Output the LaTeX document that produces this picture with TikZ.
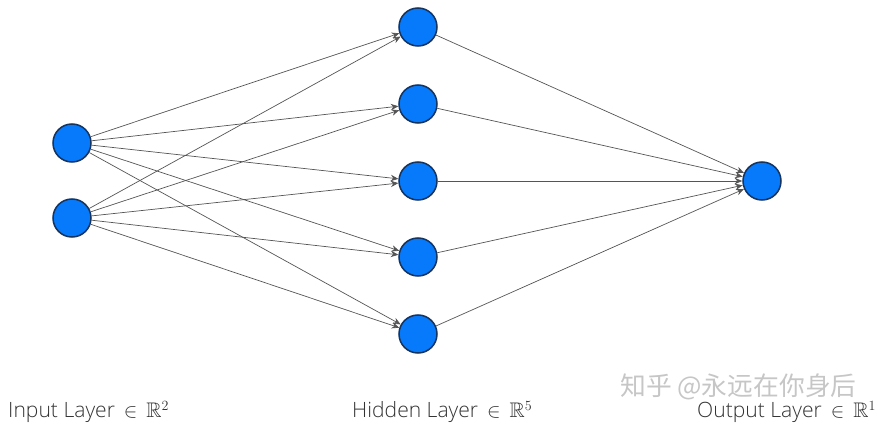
\documentclass[tikz,border=0pt]{standalone}
\usepackage{amssymb}
\usepackage{amsmath}
\usepackage{fontspec}
\setmainfont{Open Sans}[UprightFont=* Light]
\newfontfamily\cjkfont{Noto Sans CJK SC}
\usetikzlibrary{arrows.meta}
\definecolor{neuronblue}{RGB}{6,122,250}
\definecolor{neuronedge}{RGB}{22,52,96}
\definecolor{wiregray}{RGB}{85,85,85}

\begin{document}
\begin{tikzpicture}[x=0.03cm,y=-0.03cm,
    neuron/.style={circle,draw=neuronedge,fill=neuronblue,line width=1.3pt,minimum size=38*0.03cm,inner sep=0pt},
    wire/.style={draw=wiregray,line width=0.6pt,-{Stealth[length=6.5pt,width=5.5pt]}},
    layerlabel/.style={anchor=base west,inner sep=0pt,font=\fontsize{18}{21}\selectfont,text=black!80}]
    \useasboundingbox (0,0) rectangle (882,427);
    %Input layer
    \node[neuron] (in1) at (72,143) {};
    \node[neuron] (in2) at (72,218) {};
    %Hidden layer
    \node[neuron] (h1) at (418,27) {};
    \node[neuron] (h2) at (418,104) {};
    \node[neuron] (h3) at (418,181) {};
    \node[neuron] (h4) at (418,257) {};
    \node[neuron] (h5) at (418,334) {};
    %Output layer
    \node[neuron] (out) at (762,181) {};
    %Connections
    \foreach \i in {1,2}
        \foreach \j in {1,...,5}
            \draw[wire] (in\i) -- (h\j);
    \foreach \j in {1,...,5}
        \draw[wire] (h\j) -- (out);
    %Labels
    \node[layerlabel] (inlabel) at (8,418) {Input Layer \,$\in$\, $\mathbb{R}^2$};
    \node[layerlabel] (hidlabel) at (352,418) {Hidden Layer \,$\in$\, $\mathbb{R}^5$};
    \node[layerlabel] (outlabel) at (697,418) {Output Layer \,$\in$\, $\mathbb{R}^1$};
    \node[anchor=base west,inner sep=0pt,text=gray!45,font=\cjkfont\fontsize{22}{26}\selectfont] (mark) at (620,396) {知乎 @永远在你身后};
\end{tikzpicture}
\end{document}
